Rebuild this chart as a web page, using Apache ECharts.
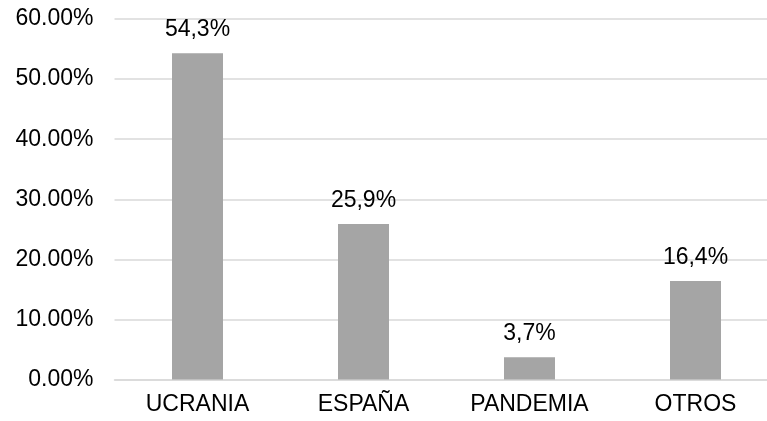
<!DOCTYPE html>
<html>
<head>
<meta charset="utf-8">
<script src="https://cdn.jsdelivr.net/npm/echarts@6/dist/echarts.min.js"></script>
<style>html,body{margin:0;padding:0;background:#fff;overflow:hidden;width:767px;height:421px}#c{width:790px;height:421px}</style>
</head>
<body>
<div id="c"></div>
<script>
const categories = ['UCRANIA', 'ESPAÑA', 'PANDEMIA', 'OTROS'];
const values = [54.3, 25.9, 3.7, 16.4];
const yTicks = { min: 0, max: 60, interval: 10 };

const font = '"Liberation Sans", Arial, sans-serif';
const chart = echarts.init(document.getElementById('c'), null, { renderer: 'canvas' });
chart.setOption({
  animation: false,
  backgroundColor: '#fff',
  grid: { left: 114.5, top: 19, right: 11.5, bottom: 41.5, containLabel: false },
  xAxis: {
    type: 'category',
    data: categories,
    axisTick: { show: false },
    axisLine: { lineStyle: { color: '#D9D9D9', width: 1.5 } },
    axisLabel: { color: '#000', fontFamily: font, fontSize: 23, margin: 14 }
  },
  yAxis: {
    type: 'value',
    min: yTicks.min, max: yTicks.max, interval: yTicks.interval,
    axisLine: { show: false },
    axisTick: { show: false },
    splitLine: { lineStyle: { color: '#D9D9D9', width: 1.5 } },
    axisLabel: { color: '#000', fontFamily: font, fontSize: 23, margin: 21,
      formatter: v => v.toFixed(2) + '%' }
  },
  series: [{
    type: 'bar',
    data: values,
    barWidth: 51,
    itemStyle: { color: '#A5A5A5' },
    label: {
      show: true, position: 'top', distance: 12,
      color: '#000', fontFamily: font, fontSize: 23,
      formatter: p => p.value.toFixed(1).replace('.', ',') + '%'
    }
  }]
});
</script>
</body>
</html>
